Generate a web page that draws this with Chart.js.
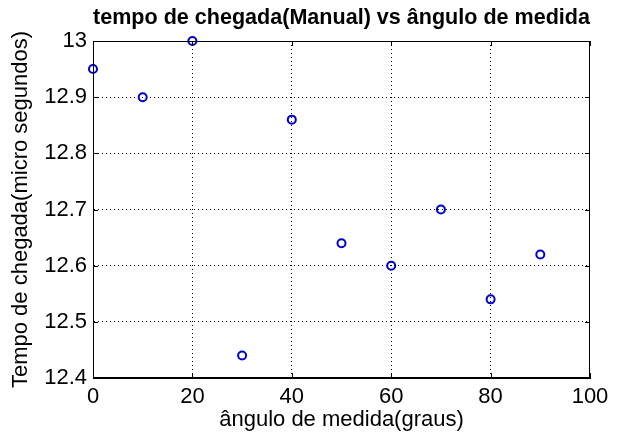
<!DOCTYPE html>
<html lang="pt">
<head>
    <meta charset="UTF-8">
    <title>tempo de chegada vs ângulo</title>
    <script src="https://cdn.jsdelivr.net/npm/chart.js"></script>
    <style>
        body { margin: 0; background: #fff; }
        #wrap { width: 623px; height: 433px; }
    </style>
</head>
<body>
<div id="wrap"><canvas id="chart" width="623" height="433"></canvas></div>
<script>
    // data
    const angles = [0, 10, 20, 30, 40, 50, 60, 70, 80, 90];
    const arrivalTimes = [12.95, 12.90, 13.00, 12.44, 12.86, 12.64, 12.60, 12.70, 12.54, 12.62];
    const xTicks = [0, 20, 40, 60, 80, 100];
    const yTicks = [12.4, 12.5, 12.6, 12.7, 12.8, 12.9, 13];

    const font = "'Liberation Sans', Arial, Helvetica, sans-serif";

    // dotted grid, but not on the box edges
    function gridColor(ctx) {
        const n = ctx.scale.ticks.length;
        return (ctx.index === 0 || ctx.index === n - 1) ? 'rgba(0,0,0,0)' : '#000';
    }

    // box around the plot + MATLAB style inward tick marks
    const boxPlugin = {
        id: 'box',
        afterDraw(chart) {
            const { ctx, chartArea: a, scales } = chart;
            const len = 5;
            ctx.save();
            ctx.strokeStyle = '#000';
            ctx.lineWidth = 1;
            ctx.strokeRect(a.left + 0.5, a.top + 0.5, a.right - a.left - 1, a.bottom - a.top - 1);
            ctx.beginPath();
            xTicks.forEach(v => {
                const x = Math.round(scales.x.getPixelForValue(v)) + 0.5;
                ctx.moveTo(x, a.bottom); ctx.lineTo(x, a.bottom - len);
                ctx.moveTo(x, a.top); ctx.lineTo(x, a.top + len);
            });
            yTicks.forEach(v => {
                const y = Math.round(scales.y.getPixelForValue(v)) + 0.5;
                ctx.moveTo(a.left, y); ctx.lineTo(a.left + len, y);
                ctx.moveTo(a.right, y); ctx.lineTo(a.right - len, y);
            });
            ctx.stroke();
            ctx.restore();
        }
    };

    new Chart(document.getElementById('chart'), {
        type: 'scatter',
        data: {
            datasets: [{
                data: angles.map((a, i) => ({ x: a, y: arrivalTimes[i] })),
                pointStyle: 'circle',
                pointRadius: 4,
                pointBorderWidth: 2,
                borderColor: '#0000cc',
                backgroundColor: 'rgba(0,0,0,0)',
                clip: false
            }]
        },
        options: {
            responsive: false,
            animation: false,
            layout: { padding: { left: 0, right: 33, top: 0, bottom: 0 } },
            plugins: {
                legend: { display: false },
                tooltip: { enabled: false },
                title: {
                    display: true,
                    fullSize: false,
                    text: 'tempo de chegada(Manual) vs ângulo de medida',
                    color: '#000',
                    font: { family: font, size: 22, weight: 'bold', lineHeight: 1.2 },
                    padding: { top: 5, bottom: 9.6 }
                }
            },
            scales: {
                x: {
                    type: 'linear',
                    min: 0, max: 100,
                    afterFit(s) { s.height = 55; },
                    afterBuildTicks(s) { s.ticks = xTicks.map(v => ({ value: v })); },
                    ticks: {
                        color: '#000',
                        font: { family: font, size: 22 },
                        padding: 6,
                        maxRotation: 0
                    },
                    grid: { color: gridColor, lineWidth: 1, drawTicks: false },
                    border: { display: true, color: '#000', dash: [1, 3] },
                    title: {
                        display: true,
                        text: 'ângulo de medida(graus)',
                        color: '#000',
                        font: { family: font, size: 22, lineHeight: 1.2 },
                        padding: { top: 0, bottom: 0 }
                    }
                },
                y: {
                    type: 'linear',
                    min: 12.4, max: 13,
                    afterFit(s) { s.width = 93; },
                    afterBuildTicks(s) { s.ticks = yTicks.map(v => ({ value: v })); },
                    ticks: {
                        color: '#000',
                        font: { family: font, size: 22 },
                        padding: 6,
                        callback: v => String(Number(v.toFixed(1)))
                    },
                    grid: { color: gridColor, lineWidth: 1, drawTicks: false },
                    border: { display: true, color: '#000', dash: [1, 3] },
                    title: {
                        display: true,
                        text: 'Tempo de chegada(micro segundos)',
                        color: '#000',
                        font: { family: font, size: 22, lineHeight: 1.2 },
                        padding: { top: 8, bottom: 0 }
                    }
                }
            }
        },
        plugins: [boxPlugin]
    });
</script>
</body>
</html>
